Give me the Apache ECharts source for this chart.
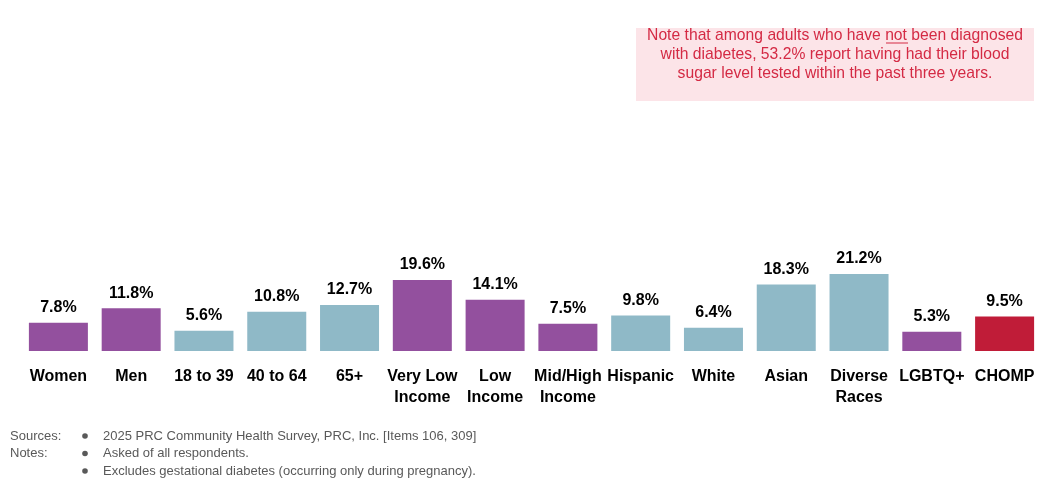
<!DOCTYPE html>
<html><head><meta charset="utf-8">
<script src="https://cdn.jsdelivr.net/npm/echarts@6/dist/echarts.min.js"></script>
<style>html,body{margin:0;padding:0;background:#fff}#c{width:1045px;height:483px}</style>
</head><body><div id="c"></div>
<script>
const categories = ['Women','Men','18 to 39','40 to 64','65+','Very Low\nIncome','Low\nIncome','Mid/High\nIncome','Hispanic','White','Asian','Diverse\nRaces','LGBTQ+','CHOMP'];
const values = [7.8,11.8,5.6,10.8,12.7,19.6,14.1,7.5,9.8,6.4,18.3,21.2,5.3,9.5];
const groups = ['p','p','b','b','b','p','p','p','b','b','b','b','p','r'];
const noteLines = ['Note that among adults who have not been diagnosed','with diabetes, 53.2% report having had their blood','sugar level tested within the past three years.'];
const footLabels = ['Sources:','Notes:',''];
const footTexts = ['2025 PRC Community Health Survey, PRC, Inc. [Items 106, 309]','Asked of all respondents.','Excludes gestational diabetes (occurring only during pregnancy).'];

const colorMap = {p:'#93509E', b:'#8FB9C7', r:'#C01C38'};
const FONT = '"Liberation Sans", Arial, sans-serif';
const chart = echarts.init(document.getElementById('c'));

const graphics = [
  {type:'rect', shape:{x:636,y:28,width:398,height:73}, style:{fill:'#FCE4E8'}, silent:true},
  {type:'text', x:835, y:26.5, style:{
    text: noteLines.join('\n'), fill:'#D42A44', font:'15.7px '+FONT, align:'center', lineHeight:19
  }},
  {type:'line', shape:{x1:886,y1:43,x2:908,y2:43}, style:{stroke:'#D42A44', lineWidth:1}}
];
footLabels.forEach((t,i)=>{
  const y = 436 + i*17.5;
  if (t) graphics.push({type:'text', x:10, y:y, style:{text:t, fill:'#595959', font:'13px '+FONT, verticalAlign:'middle'}});
  graphics.push({type:'circle', shape:{cx:85, cy:y, r:2.8}, style:{fill:'#595959'}});
  graphics.push({type:'text', x:103, y:y, style:{text:footTexts[i], fill:'#595959', font:'13px '+FONT, verticalAlign:'middle'}});
});

chart.setOption({
  animation:false,
  grid:{left:22, right:4, top:97, bottom:132, containLabel:false},
  xAxis:{type:'category', data:categories, axisLine:{show:false}, axisTick:{show:false},
    axisLabel:{interval:0, margin:15, color:'#000', fontWeight:'bold', fontSize:16, fontFamily:FONT, lineHeight:21}},
  yAxis:{type:'value', min:0, max:70, show:false, splitLine:{show:false}},
  series:[{type:'bar', barWidth:59,
    data: values.map((v,i)=>({value:v, itemStyle:{color:colorMap[groups[i]]}})),
    label:{show:true, position:'top', distance:7, formatter:p=>p.value.toFixed(1)+'%', color:'#000', fontWeight:'bold', fontSize:16, fontFamily:FONT}
  }],
  graphic: graphics
});
</script></body></html>
